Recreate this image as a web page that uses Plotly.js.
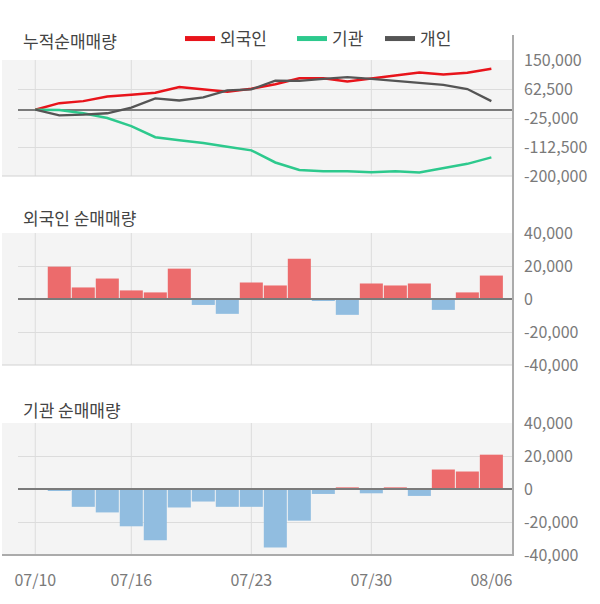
<!DOCTYPE html>
<html><head><meta charset="utf-8">
<script src="https://cdn.plot.ly/plotly-3.0.1.min.js"></script>
<style>html,body{margin:0;padding:0;background:#fff}</style>
</head><body><div id="chart" style="width:600px;height:604px"></div>
<script>
// ---- data ----
const dates = ['07/10','07/11','07/12','07/13','07/16','07/17','07/18','07/19','07/20','07/23','07/24','07/25','07/26','07/27','07/30','07/31','08/01','08/02','08/03','08/06'];
const cumForeign = [0,19800,25900,40100,45200,51300,68600,62500,54400,63500,76700,95000,95000,84900,95000,103000,112300,106200,111300,123500];
const cumInst    = [0,-1000,-10700,-25000,-49400,-82900,-92000,-100200,-111400,-122600,-159200,-181600,-185600,-185600,-188700,-185600,-189700,-177500,-163300,-143900];
const cumIndiv   = [0,-16800,-14800,-10700,6600,34000,27900,37100,58400,61500,87900,86900,93000,98100,93000,86900,78800,74700,62500,25900];
const netForeign = [0,19600,7000,12400,5200,4000,18400,-3600,-9000,10000,8200,24400,-1200,-9600,9400,8200,9400,-6600,4000,14200];
const netInst    = [0,-1200,-10800,-14200,-22600,-31000,-11200,-7600,-10800,-10800,-35400,-19200,-3000,1000,-2600,1000,-4200,11800,10600,20800];
const seriesNames = ['외국인','기관','개인'];
const panelTitles = ['누적순매매량','외국인 순매매량','기관 순매매량'];
const xTickIdx = [0,4,9,14,19];
const xTickText = ['07/10','07/16','07/23','07/30','08/06'];
const gridIdx = [0,4,9,14];
const y1Ticks = [150000,62500,-25000,-112500,-200000];
const y1Text = ['150,000','62,500','-25,000','-112,500','-200,000'];
const y2Ticks = [40000,20000,0,-20000,-40000];
const y2Text = ['40,000','20,000','0','-20,000','-40,000'];

// ---- styling ----
const W = 600, H = 604;
const px = v => v / W;
const py = v => (H - v) / H;
const FONT = '"Noto Sans CJK KR", "Noto Sans", sans-serif';
const RED = '#e8141b', GREEN = '#2dc98d', GRAY = '#555555';
const POS = '#ec6b6c', NEG = '#91bde0';
const idx = dates.map((d, i) => i);
const xDom = [px(18), px(512)];
const xRange = [-0.72, 19.86];
const panels = [[60, 176], [233, 365], [423, 555]]; // top,bottom px
const legendNames = ['legend', 'legend2', 'legend3'];
const legendX = [180, 292, 380];

const traces = [
  {x: idx, y: cumForeign, type: 'scatter', mode: 'lines', line: {color: RED, width: 2.5}, xaxis: 'x', yaxis: 'y', showlegend: false, hoverinfo: 'skip'},
  {x: idx, y: cumInst, type: 'scatter', mode: 'lines', line: {color: GREEN, width: 2.5}, xaxis: 'x', yaxis: 'y', showlegend: false, hoverinfo: 'skip'},
  {x: idx, y: cumIndiv, type: 'scatter', mode: 'lines', line: {color: GRAY, width: 2.3}, xaxis: 'x', yaxis: 'y', showlegend: false, hoverinfo: 'skip'},
  {x: idx, y: netForeign, type: 'bar', marker: {color: netForeign.map(v => v >= 0 ? POS : NEG), line: {width: 0}}, xaxis: 'x2', yaxis: 'y2', showlegend: false, hoverinfo: 'skip'},
  {x: idx, y: netInst, type: 'bar', marker: {color: netInst.map(v => v >= 0 ? POS : NEG), line: {width: 0}}, xaxis: 'x3', yaxis: 'y3', showlegend: false, hoverinfo: 'skip'},
];
// legend entries (one legend box each, for exact placement)
[RED, GREEN, GRAY].forEach((c, i) => traces.push({
  x: [null], y: [null], type: 'scatter', mode: 'lines', name: seriesNames[i],
  line: {color: c, width: 5}, xaxis: 'x', yaxis: 'y', showlegend: true, legend: legendNames[i]
}));

function xAxis(n, labels) {
  return {
    domain: xDom, range: xRange, anchor: n === 1 ? 'y' : 'y' + n,
    showgrid: false, zeroline: false, showline: false, ticks: '',
    tickvals: labels ? xTickIdx : [], ticktext: labels ? xTickText : [],
    showticklabels: !!labels, ticklabelstandoff: 14,
    tickfont: {family: FONT, size: 16, color: '#7a7a7a'}, fixedrange: true
  };
}
function yAxis(n, top, bottom, range, vals, text, zl) {
  return {
    domain: [py(bottom), py(top)], range: range, anchor: n === 1 ? 'x' : 'x' + n,
    side: 'right', showgrid: true, gridcolor: '#dcdcdc', gridwidth: 1,
    zeroline: zl, zerolinecolor: '#7a7a7a', zerolinewidth: 2,
    showline: false, ticks: '', tickvals: vals, ticktext: text, ticklabelstandoff: 11,
    tickfont: {family: FONT, size: 16, color: '#7a7a7a'}, fixedrange: true
  };
}

const shapes = [];
panels.forEach((p, k) => {
  const ax = k === 0 ? '' : String(k + 1);
  shapes.push({type: 'rect', xref: 'paper', yref: 'paper', x0: px(2), x1: px(18), y0: py(p[1]), y1: py(p[0]), fillcolor: '#f4f4f4', line: {width: 0}, layer: 'below'});
  gridIdx.forEach(g => shapes.push({type: 'line', xref: 'x' + ax, yref: 'y' + ax + ' domain', x0: g, x1: g, y0: 0, y1: 1, line: {color: '#dcdcdc', width: 1}, layer: 'below'}));
  shapes.push({type: 'line', xref: 'paper', yref: 'paper', x0: px(2), x1: px(512), y0: py(p[1]), y1: py(p[1]), line: {color: k === 2 ? '#ababab' : '#d2d2d2', width: k === 2 ? 2 : 1.2}});
  if (k > 0) shapes.push({type: 'line', xref: 'paper', yref: 'y' + ax, x0: px(18), x1: px(512), y0: 0, y1: 0, line: {color: '#7a7a7a', width: 2}, layer: 'above'});
});
shapes.push({type: 'line', xref: 'paper', yref: 'paper', x0: px(513), x1: px(513), y0: py(35), y1: py(556), line: {color: '#ababab', width: 2}});

const annotations = panelTitles.map((t, k) => ({
  text: t, xref: 'paper', yref: 'paper', x: px(21), y: py([40.5, 218, 409][k]),
  xanchor: 'left', yanchor: 'middle', showarrow: false,
  font: {family: FONT, size: 17, color: '#444'}
}));

const layout = {
  width: W, height: H, margin: {l: 0, r: 0, t: 0, b: 0},
  paper_bgcolor: '#fff', plot_bgcolor: '#f4f4f4',
  font: {family: FONT},
  bargap: 0.04,
  showlegend: true,
  xaxis: xAxis(1, false), xaxis2: xAxis(2, false), xaxis3: xAxis(3, true),
  yaxis: yAxis(1, 60, 176, [-200000, 150000], y1Ticks, y1Text, true),
  yaxis2: yAxis(2, 233, 365, [-40000, 40000], y2Ticks, y2Text, false),
  yaxis3: yAxis(3, 423, 555, [-40000, 40000], y2Ticks, y2Text, false),
  shapes: shapes, annotations: annotations
};
legendNames.forEach((ln, i) => {
  layout[ln] = {orientation: 'h', x: px(legendX[i]), y: py(39), xanchor: 'left', yanchor: 'middle',
    font: {family: FONT, size: 17, color: '#444'}, bgcolor: 'rgba(0,0,0,0)', itemwidth: 30};
});
Plotly.newPlot('chart', traces, layout, {staticPlot: true, displayModeBar: false});
</script></body></html>
